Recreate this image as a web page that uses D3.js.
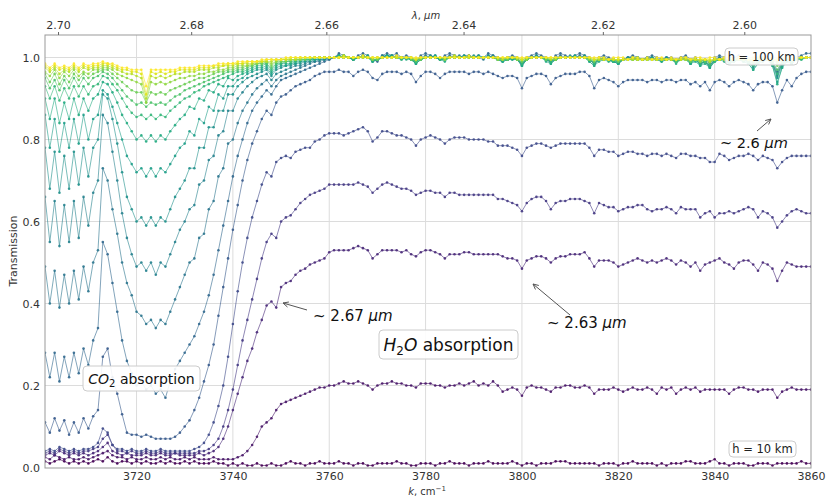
<!DOCTYPE html>
<html><head><meta charset="utf-8">
<script src="https://cdn.jsdelivr.net/npm/d3@7"></script>
<style>body{margin:0;background:#fff} svg{display:block} text{font-family:"DejaVu Sans",sans-serif}</style>
</head><body><svg id="c" width="826" height="497"></svg>
<script>
// wavenumber of first sample (cm^-1), samples every 1 cm^-1
const kStart = 3701;
const heights = [10,15,20,25,30,35,40,45,50,55,60,65,70,75,80,85,90,95,100];
const xTicks = [3720,3740,3760,3780,3800,3820,3840,3860];
const yTicks = [0,0.2,0.4,0.6,0.8,1.0];
const lambdaTicks = [2.70,2.68,2.66,2.64,2.62,2.60];
// transmission in percent, one array per altitude
const h10 = [1.5,1,1.5,2,1.5,1,1.5,1,1.5,1, 1.5,2,1.5,2.5,1.5,1,1.5,1.5,1,1.5, 1,1.5,1,1,1.5,1,1.5,1,1,1.5, 1,1.5,1,1,1,1.5,1,1,0.5,1, 0.5,1,0.5,0.5,1,0.5,0.5,1,0.5,0.5, 1,1.5,1,1,0.5,1,1,1.5,1,1, 1,1.5,1,1,0.5,1,1,0.5,0.5,1, 1,1,1,1.5,1,1,0.5,0.5,1,1, 1,0.5,1,1,1.5,1,1,1,0.5,1, 1,1,1.5,1,1,1,1,1.5,1,0.5, 1,1,0.5,1,1,1,1.5,1.5,1.5,1, 1,1,1,1,1,0.5,1,1,1,0.5, 1,1,1.5,1,1,1,1,0.5,1,0.5, 1,1,1,1.5,1.5,1,1,1,1.5,2, 1,1,0.5,1,1,1,0.5,0.5,1,1, 1,0.5,1,1,1,1,1,1.5,1,1];
const h15 = [2.5,2,3,2.5,2,2.5,2,2,2.5,2, 2.5,3,3.5,4,3,2.5,2.5,2,2.5,2, 2,2.5,2,2,2.5,2,2.5,2,2,2.5, 2,2.5,2,2,2,2.5,2,2,2,2, 2.5,3,4,5.5,7.5,10,11,12,14,15.5, 16,16.5,17,17.5,18,18.5,19,19.5,19.5,20, 20,20.5,21,20.5,20.5,21,20.5,20,19,20, 20.5,20.5,21,20.5,20.5,20,20,19.5,20.5,20.5, 20.5,20,20,19.5,20,20,20.5,20,20.5,21, 20,20.5,20,21,20,18.5,19,19.5,19,17.5, 19.5,20,19.5,19.5,19,18.5,19.5,19.5,20,20, 19.5,19.5,20,19.5,18,19,19,19,19.5,19, 18.5,19,19.5,19,19,19.5,19,18,19.5,19, 19.5,18,19,19.5,19,19.5,18.5,19,19,19, 19,19,18,19,19.5,19.5,19,19,18.5,19, 19,19,17,18.5,19,19.5,19,19,19,19];
const h20 = [3,3.5,3,4,3.5,3,3.5,3,3.5,3, 3.5,4,5,6,4,3.5,3,3.5,3,3, 3,3.5,3,3,3.5,3,3,3.5,3,3, 3,3,3.5,3,3.5,4,5,7,10,14, 18,22,26,29,33,36,39.5,40.5,39,44, 45,45.5,47,48,48.5,49.5,50,50.5,51,52.5, 53,53,53,53,53.5,54,53.5,53,51,52, 53,53,53,53,52.5,53,52,51.5,52.5,53, 53,52.5,52,51,52,52,52,52.5,52.5,52, 52,52,52,52,52,51.5,51,51,50.5,48.5, 50.5,51,51.5,51.5,51,50,51,51.5,51.5,52, 52,52,52.5,51,49,50.5,50.5,50.5,50,49, 49.5,50,50.5,51,50.5,50,50.5,50,50.5,51, 50.5,49.5,50.5,50,49,50,48,49.5,50,50.5, 51,50,49.5,48.5,50,50.5,50.5,49.5,48,50, 49.5,48.5,45.5,48,50,49.5,49,49,49,49];
const h25 = [3.5,4,3.5,4.5,4,3.5,4,3.5,4,4, 4.5,5,7,8,5.5,4,4,3.5,4,3.5, 3.5,4,3.5,3.5,4,3.5,3.5,3.5,3.5,3.5, 3.5,3.5,4,4,4.5,5.5,7,10,14,19, 25,31,36,41,46,51,55,57,56,60, 61,61.5,63,64.5,65.5,66.5,67,67.5,68,69, 69,69,69,69,69,69.5,69,68.5,67,68, 69,69.5,69,68.5,68,68,67.5,66.5,67,67.5, 67.5,67,67,66,67,67,66.5,66.5,66.5,66.5, 66.5,66.5,66.5,66.5,65.5,65.5,65,64.5,64,62.5, 64.5,65.5,66,66,65,63,64.5,65,65,65.5, 65.5,65.5,65,64.5,62,64.5,64,63.5,63.5,62.5, 63,63.5,63.5,64,64,63,62.5,63,63,63.5, 63,62,63.5,63,63,63,61,62,62.5,61, 62,62,62.5,62,62.5,63,63.5,63,61,62.5, 62,61,58.5,60,61.5,62.5,63,62.5,62,62];
const h30 = [4,4.5,4,5,4.5,4,4.5,4,4.5,4.5, 5,6,9.5,8.5,5.5,4.5,4.5,4,4.5,4, 4,4.5,4,4,4.5,4,4,4,4,4, 4,4.5,5,6,8,11,15,20,27,35, 43,50,56,61,65,69,72,71,74.5,75.5, 76,75.5,77,77.5,78,78,79.5,80,81,81.5, 81.5,81.5,81,81.5,82,82.5,83,82,79.5,80.5, 82,82,81.5,81,81,80.5,80,78.5,80,80.5, 81,80.5,80,79,80,80.5,80.5,80.5,80,80, 80,80,79.5,79.5,78.5,78.5,78.5,78,77.5,76, 78,78.5,79,79,78.5,78,78.5,79,79,79, 79,79,79,78,76,77.5,77.5,77,77,76, 76.5,77,77,76.5,76.5,76,76.5,76.5,76,76.5, 76,75.5,76.5,76.5,76,76,75.5,75.5,74.5,74.5, 76.5,76,75,75.5,76,76,76.5,76,75,76, 75.5,75,73,74.5,75.5,76,76,76,76,76];
const h35 = [11,8.5,12,9,11.5,8,11,8.5,12,9.5, 12.5,14,27,29,22,18,13,8.5,8,8, 7.5,8,7.5,7,7,7,7,7.5,8.5,10, 11.5,14,17,21,25,30,37,44,51,58, 64,70,75,79,82,85,87,86,89,90.5, 91,92,93,93.5,94,94.5,95.5,96,96.5,96.5, 96.5,97,96.5,96.5,95.5,96.5,97,96.5,95,94.5, 96,96.5,96.5,96.5,96,96.5,96,94,95.5,96.5, 96.5,96,95,96,96.5,96.5,96.5,96.5,96,96.5, 96.5,96,96.5,96,95.5,95,95.5,95.5,95,92.5, 95,95.5,96,96,95.5,93.5,95,95.5,96,96, 96,96.5,96.5,95.5,92.5,94.5,95,94.5,94,93, 94,94.5,94.5,94.5,94.5,94,94.5,94.5,94,94.5, 94.5,94,94.5,94.5,93.5,94,93,94,92,94, 94.5,94,93,94,94.5,94,93.5,92,93.5,94, 94,93,89,92,94.5,93,95,96,96.5,96.5];
const h40 = [28,22,28,21,27,22,28,23,29,25, 31,34,55,52,45,38,31,26,23,20, 21,19,20,18,19,17,21,24,26,28, 30,32,35,38,42,47,53,59,65,71, 76,80,84,87,89,90.5,92,91,93,94.5, 95,95.5,96,96.5,97,97.5,98,98.5,99,99.5, 100,101,100.5,100,99.5,100.5,101,100.5,99.5,99, 100.5,101,100.5,101,100,100.5,100,99,100.5,101, 100.5,100,99.5,100.5,101,100.5,100,100.5,100.5,100, 100.5,100,101,100.5,100,99.5,100,100.5,100,98.5, 100,100.5,101,100.5,100,99,100.5,101,100.5,100, 100.5,101,100.5,100,98.5,100,100.5,100,99.5,99, 99.5,100,100.5,100,99.5,100,100.5,100,99.5,100, 100,99.5,100,100.5,99.5,100,99,99.5,98.5,100, 100.5,100,99,100,100.5,100,99.5,98.5,99.5,100, 100,99,96.5,99,100.5,99.5,100,100.5,101,101];
const h45 = [49,40,48,39,47,40,48,41,49,43, 50,53,73,70,63,57,50,45,42,38, 37,35,36,34,36,35,38,41,44,47, 50,51,56,57,63,65,71,73,79,80, 84,87,89,91,92.5,93.5,94.5,93,94.5,95.5, 96,96.5,97,97.5,98,98.5,99,99,99.5,99.5, 100,100.5,100,100,99.5,100,100.5,100,99.5,99.5, 100,100.5,100,100.5,100,100,99.5,99,100,100.5, 100,100,99.5,100,100.5,100,100,100,100.5,100, 100,99.5,100.5,100,100,99.5,99.5,100,99.5,98.5, 99.5,100,100.5,100,99.5,99,100,100.5,100,100, 100,100.5,100,99.5,98.5,99.5,100,99.5,99,99, 99.5,100,100,99.5,99.5,100,100,99.5,99.5,100, 99.5,99,100,100,99,99.5,98.5,99,98,99.5, 100,99.5,99,99.5,100,99.5,99,98,99,99.5, 99.5,98.5,96,98.5,100,99,99.5,100,100,100];
const h50 = [66,55,65,54,64,55,65,56,66,59, 67,70,86,84,77,70,62,56,52,49, 50,48,50,47,50,49,52,55,58,60, 63,64,69,70,75,76,81,82,87,87, 90,91.5,93,94,95,95.5,96,94.5,96,96.5, 97,97.5,98,98,98.5,99,99,99.5,99.5,100, 100,100,100.5,100,99.5,100,100,100,99.5,99.5, 100.5,100.5,100,100,100,100,99.5,99,100,100, 100,100.5,99.5,99.5,100,100,100.5,100,100,100, 100,100,100,100.5,99.5,99.5,99.5,100,99.5,98.5, 99.5,100,100,100,99.5,99,99.5,100,100,100, 100,100,100,99.5,98.5,99.5,99.5,99.5,99,98.5, 99.5,99.5,100,100,99.5,99.5,100,99.5,99.5,99.5, 99.5,99,99.5,100,99,99.5,98.5,99,98,99.5, 100,99.5,99,99.5,99.5,99.5,99,98,99,99.5, 99.5,98.5,95.5,98.5,99.5,99,99.5,100,100,100];
const h55 = [78,68,77,67,76,68,77,69,78,71, 78,80,91,90,85,79,72,66,63,60, 61,59,61,59,61,60,63,66,68,70, 73,73,78,78,83,83,87,87,91,91, 93,94,95,95.5,96,96.5,97,95.5,97,97.5, 98,98,98.5,98.5,99,99,99.5,99.5,99.5,100, 100,100.5,100,100,99.5,100,100.5,100,99,99.5, 100,100.5,100.5,100,100,100,99.5,98.5,99.5,100, 100.5,100,99.5,99.5,100,100.5,100,100,100,100.5, 100,100,100.5,100,99.5,99,99.5,99.5,99.5,98, 99.5,100,100.5,100,99.5,99,99.5,100,100,100.5, 100,100,100.5,99.5,98.5,99.5,100,99.5,99,98.5, 99.5,100,100,99.5,99.5,100,99.5,99.5,99.5,100, 99.5,99,99.5,100,98.5,99.5,98.5,99,97.5,99.5, 99.5,99.5,98.5,99.5,99.5,99.5,99,97.5,99,99.5, 99.5,98.5,95,98,99.5,98.5,99.5,100,100,100];
const h60 = [86,78,85,77,84,78,85,79,86,80, 85,86,92,91,88,84,80,76,74,72, 73,71,73,71,73,72,74,76,78,79, 82,81,85,84,88,87,91,90,93,93, 94.5,95,96,96.5,97,97,97.5,96,97.5,98, 98,98.5,98.5,99,99,99.5,99.5,99.5,100,100, 100,100,100.5,100,99.5,100,100,100.5,99,99.5, 100,100,100.5,100,99.5,100,99.5,98.5,99.5,100, 100,100.5,99.5,99.5,100,100,100,100.5,100,100, 100.5,100,100,100,99.5,99,99.5,100,99.5,98, 99.5,100,100,100,99.5,98.5,99.5,100,100,100, 100.5,100,100,99,98,99.5,99.5,99.5,99,98.5, 99.5,99.5,100,100,99.5,99.5,100,99.5,99,99.5, 99.5,99,99.5,99.5,98.5,99.5,98,99,97.5,99, 99.5,99.5,98.5,99,99.5,99,98.5,97,98.5,99.5, 99.5,98,94,97.5,99.5,98.5,99.5,100,100,100];
const h65 = [90,85,90,84,89,85,90,86,90,87, 90,91,94,93.5,91.5,89,86,84,82,80, 81,79.5,81,79.5,81,80,82,83.5,85,86, 88,87.5,90,89.5,92,91.5,93.5,93,95,94.5, 95.5,96,96.5,97,97.5,97.5,98,96.5,98,98.5, 98.5,98.5,99,99,99.5,99.5,99.5,100,100,100, 100,100.5,100,100,99.5,100,100.5,100,99,99.5, 100,100.5,100,100,100,99.5,99.5,98.5,99.5,100, 100,100,99.5,99,100,100,100,100,100.5,100, 100,100,100,100,99.5,99,99.5,99.5,99.5,98, 99.5,100,100,100,99,98.5,99.5,100,100,100, 100,100,100,99,98,99,99.5,99,99,98.5, 99.5,99.5,99.5,100,99.5,99.5,99.5,99.5,99,99.5, 99.5,98.5,99.5,99.5,98.5,99,98,98.5,97.5,99, 99.5,99,98.5,99,99.5,99,98.5,97,98.5,99, 99.5,98,93.5,97.5,99,98.5,99.5,99.5,100,100];
const h70 = [93,90,93,89.5,92.5,90,93,90.5,93,91, 93,93.5,95.5,95,93.5,92,90,88,86.5,85.5, 86,85,86,85,86,85.5,87,88,89,90, 90.5,91.5,92,93,93.5,94,94.5,95,95.5,96, 96.5,96.5,97,97.5,98,98,98.5,97,98.5,98.5, 99,99,99,99.5,99.5,99.5,100,100,100,100, 100,100,100,100,99.5,100,100,100,99.5,99.5, 100,100,100,100,99.5,100,99.5,99,99.5,100, 100,100,99.5,99.5,100,100,100,100,100,100, 100,100,100,100,99.5,99.5,99.5,100,99.5,98.5, 99.5,100,100,100,99.5,99,99.5,100,100,100, 100,100,100,99.5,98.5,99.5,99.5,99.5,99,99, 99.5,99.5,99.5,99.5,99.5,99.5,99.5,99.5,99.5,99.5, 99.5,99,99.5,99.5,99,99.5,98.5,99,98,99, 99.5,99.5,99,99,99.5,99,99,98,99,99.5, 99.5,98.5,96,98.5,99.5,99,99.5,99.5,100,100];
const h75 = [95,92.5,94.5,92,94.5,92.5,95,93,95,93.5, 95,95.5,96.5,96,95,93.5,92,90.5,89.5,88.5, 89,88,89,88.5,89,88.5,89.5,90.5,91,92, 92.5,93,93.5,94,94.5,95,95.5,96,96.5,96.5, 97,97,97.5,98,98.5,98.5,98.5,97.5,98.5,99, 99,99,99.5,99.5,99.5,99.5,100,100,100,100, 100,100,100.5,100,100,100,100,100,99.5,99.5, 100,100,100,100,100,100,99.5,99,99.5,100, 100,100,100,99.5,100,100,100,100,100,100, 100,100,100,100,99.5,99.5,99.5,100,99.5,99, 99.5,100,100,100,99.5,99.5,99.5,100,100,100, 100,100,100,99.5,99,99.5,99.5,99.5,99.5,99, 99.5,99.5,99.5,99.5,99.5,99.5,99.5,99.5,99.5,99.5, 99.5,99,99.5,99.5,99,99.5,99,99,98.5,99.5, 99.5,99.5,99,99.5,99.5,99.5,99,98.5,99,99.5, 99.5,99,97,99,99.5,99,99.5,100,100,100];
const h80 = [96,94,96,93.5,95.5,94,96,94.5,96,95, 96,96.5,97,97,96,95,94,93,92,91.5, 91.5,89,91.5,91,91.5,91,92,92.5,93,93.5, 94,94.5,95,95,95.5,96,96.5,96.5,97,97, 97.5,97.5,98,98,98.5,98.5,99,98,99,99, 99,99.5,99.5,99.5,99.5,100,100,100,100,100, 100,100,100,100,100,100,100,100,99.5,99.5, 100,100,100,100,100,100,99.5,99.5,99.5,100, 100,100,100,99.5,100,100,100,100,100,100, 100,100,100,100,99.5,99.5,99.5,100,99.5,99, 99.5,100,100,100,99.5,99.5,99.5,100,100,100, 100,100,100,99.5,99,99.5,99.5,99.5,99.5,99, 99.5,99.5,99.5,99.5,99.5,99.5,99.5,99.5,99.5,99.5, 99.5,99.5,99.5,99.5,99,99.5,99,99.5,99,99.5, 99.5,99.5,99.5,99.5,99.5,99.5,99.5,99,99.5,99.5, 99.5,99,98,99,99.5,99.5,99.5,100,100,100];
const h85 = [96.5,95.5,97,95,96.5,95.5,97,95.5,96.5,96, 97,97,97.5,97.5,97,96,95.5,95,94.5,94, 93.5,89,94,93.5,94,93.5,94,94.5,95,95, 95.5,95.5,96,96,96.5,96.5,97,97,97.5,97.5, 98,98,98,98.5,98.5,99,99,98.5,99,99.5, 99.5,99.5,99.5,99.5,100,100,100,100,100,100, 100,100,100,100,100,100,100,100,99.5,100, 100,100,100,100,100,100,100,99.5,100,100, 100,100,100,99.5,100,100,100,100,100,100, 100,100,100,100,99.5,99.5,100,100,99.5,99.5, 99.5,100,100,100,100,99.5,99.5,100,100,100, 100,100,100,99.5,99.5,99.5,99.5,99.5,99.5,99.5, 99.5,99.5,99.5,99.5,99.5,99.5,99.5,99.5,99.5,99.5, 99.5,99.5,99.5,99.5,99.5,99.5,99,99.5,99,99.5, 99.5,99.5,99.5,99.5,99.5,99.5,99.5,99,99.5,99.5, 99.5,99.5,98.5,99.5,99.5,99.5,99.5,100,100,100];
const h90 = [97.5,96.5,97.5,96,97,96.5,97.5,96.5,97.5,97, 97.5,97.5,98,98,97.5,97,96.5,96,96,95.5, 95,90,95.5,95,95.5,95,95.5,96,96,96.5, 96.5,96.5,97,97,97,97.5,97.5,98,98,98, 98.5,98.5,98.5,98.5,99,99,99,99,99.5,99.5, 99.5,99.5,99.5,100,100,100,100,100,100,100, 100,100,100,100,100,100,100,100,100,100, 100,100,100,100,100,100,100,99.5,100,100, 100,100,100,100,100,100,100,100,100,100, 100,100,100,100,100,99.5,100,100,100,99.5, 100,100,100,100,100,99.5,100,100,100,100, 100,100,100,100,99.5,99.5,99.5,99.5,99.5,99.5, 99.5,99.5,99.5,99.5,99.5,99.5,99.5,99.5,99.5,99.5, 99.5,99.5,99.5,99.5,99.5,99.5,99.5,99.5,99,99.5, 99.5,99.5,99.5,99.5,99.5,99.5,99.5,99.5,99.5,99.5, 99.5,99.5,99,99.5,99.5,99.5,99.5,100,100,100];
const h95 = [98,97,98,97,97.5,97,98,97,98,97.5, 98,98,98.5,98.5,98,97.5,97,97,96.5,96.5, 96,91,96.5,96,96.5,96,96.5,96.5,97,97, 97,97,97.5,97.5,97.5,98,98,98,98.5,98.5, 98.5,98.5,99,99,99,99,99.5,99.5,99.5,99.5, 99.5,100,100,100,100,100,100,100,100,100, 100,100,100.5,100,100,100,100,100,100,100, 100,100,100,100,100,100,100,99.5,100,100, 100,100,100,100,100,100.5,100,100,100,100, 100,100,100,100,100,100,100,100,100,99.5, 100,100,100,100,100,100,100,100,100,100, 100,100,100,100,99.5,100,99.5,99.5,99.5,99.5, 99.5,99.5,100,99.5,99.5,99.5,99.5,99.5,99.5,99.5, 99.5,99.5,99.5,100,99.5,99.5,99.5,99.5,99.5,99.5, 99.5,100,99.5,99.5,99.5,100,99.5,99.5,99.5,99.5, 99.5,99.5,99.5,99.5,100,99.5,100,100,100,100];
const h100 = [98.5,97.5,98.5,97.5,98,97.5,98.5,97.5,98.5,98, 98.5,98.5,99,98.5,98.5,98,97.5,97.5,97,97, 97,93,97,97,97,97,97,97,97.5,97.5, 97.5,97.5,98,98,98,98,98.5,98.5,98.5,98.5, 99,99,99,99,99,99.5,99.5,99.5,99.5,99.5, 100,100,100,100,100,100,100,100,100,100, 100,100,100,100,100,100,100.5,100,100,100, 100,100,100,100.5,100,100,100,100,100,100, 100,100,100,100,100,100,100,100,100.5,100, 100,100,100,100,100,100,100,100,100,100, 100,100,100,100,100,100,100,100,100,100, 100,100,100,100,100,100,100,99.5,100,100, 100,99.5,100,100,99.5,100,99.5,100,100,99.5, 100,99.5,100,100,99.5,100,100,99.5,100,100, 99.5,100,100,99.5,100,100,99.5,100,100,100, 100,99.5,99.5,100,100,99.5,100,100,100,100];
const series = [h10,h15,h20,h25,h30,h35,h40,h45,h50,h55,h60,h65,h70,h75,h80,h85,h90,h95,h100];

const svg = d3.select("#c");
const L = 45, R = 811, T = 35, B = 468;
const x = d3.scaleLinear().domain([3701, 3860]).range([L, R]);
const y = d3.scaleLinear().domain([-0.0012, 1.0549]).range([B, T]);
const color = i => d3.interpolateViridis(i / (heights.length - 1));

svg.append("defs").append("clipPath").attr("id","clip")
  .append("rect").attr("x",L).attr("y",T).attr("width",R-L).attr("height",B-T);

// grid
const g = svg.append("g");
g.selectAll("line.vx").data(xTicks.filter(d=>d<3860)).join("line")
  .attr("x1",d=>x(d)).attr("x2",d=>x(d)).attr("y1",T).attr("y2",B)
  .attr("stroke","#dcdcdc").attr("stroke-width",1);
g.selectAll("line.hy").data(yTicks.filter(d=>d>0)).join("line")
  .attr("x1",L).attr("x2",R).attr("y1",d=>y(d)).attr("y2",d=>y(d))
  .attr("stroke","#dcdcdc").attr("stroke-width",1);

// curves
const plot = svg.append("g").attr("clip-path","url(#clip)");
const line = d3.line().x((d,i)=>x(kStart+i)).y(d=>y(d/100));
series.forEach((s,si)=>{
  const c = color(si);
  plot.append("path").datum(s).attr("d",line).attr("fill","none")
    .attr("stroke",c).attr("stroke-opacity",0.6).attr("stroke-width",1);
  plot.append("g").selectAll("circle").data(s).join("circle")
    .attr("cx",(d,i)=>x(kStart+i)).attr("cy",d=>y(d/100)).attr("r",1.3)
    .attr("fill",c).attr("fill-opacity",0.9);
});

// frame
svg.append("rect").attr("x",L).attr("y",T).attr("width",R-L).attr("height",B-T)
  .attr("fill","none").attr("stroke","#999").attr("stroke-width",1);

// axes
const ax = svg.append("g").attr("transform",`translate(0,${B})`)
  .call(d3.axisBottom(x).tickValues(xTicks).tickSize(0).tickPadding(4).tickFormat(d3.format("d")));
const ay = svg.append("g").attr("transform",`translate(${L},0)`)
  .call(d3.axisLeft(y).tickValues(yTicks).tickSize(0).tickPadding(5).tickFormat(d3.format(".1f")));
const at = svg.append("g").attr("transform",`translate(0,${T})`)
  .call(d3.axisTop(x).tickValues(lambdaTicks.map(l=>1e4/l)).tickSize(3).tickPadding(3)
    .tickFormat(d=>(1e4/d).toFixed(2)));
[ax,ay,at].forEach(a=>{
  a.select(".domain").remove();
  a.selectAll("text").attr("fill","#333").attr("font-size",11).attr("font-family","DejaVu Sans");
  a.selectAll("line").attr("stroke","#666");
});

// axis titles
svg.append("text").attr("x",427).attr("y",495).attr("text-anchor","middle")
  .attr("font-size",10).attr("fill","#333")
  .html('<tspan font-style="italic">k</tspan>, cm<tspan dy="-4" font-size="7">−1</tspan>');
svg.append("text").attr("x",426).attr("y",19).attr("text-anchor","middle")
  .attr("font-size",10).attr("fill","#333")
  .html('<tspan font-style="italic">λ</tspan>, <tspan font-style="italic">μm</tspan>');
svg.append("text").attr("transform","translate(17,251) rotate(-90)").attr("text-anchor","middle")
  .attr("font-size",11).attr("fill","#333").text("Transmission");

// boxed labels
function box(x0,y0,w,h){
  svg.append("rect").attr("x",x0).attr("y",y0).attr("width",w).attr("height",h).attr("rx",4)
    .attr("fill","#fff").attr("fill-opacity",0.9).attr("stroke","#ccc").attr("stroke-width",1);
}
box(725,48,73,17);
svg.append("text").attr("x",761.5).attr("y",60.5).attr("text-anchor","middle").attr("font-size",11.5).attr("fill","#222").text("h = 100 km");
box(729,441,67,16);
svg.append("text").attr("x",762.5).attr("y",453).attr("text-anchor","middle").attr("font-size",11.5).attr("fill","#222").text("h = 10 km");
box(379,330,139,29);
svg.append("text").attr("x",448.5).attr("y",350.5).attr("text-anchor","middle").attr("font-size",17).attr("fill","#111")
  .html('<tspan font-style="italic">H</tspan><tspan font-size="12" dy="4">2</tspan><tspan dy="-4" font-style="italic">O</tspan> absorption');
box(83,366,117,25);
svg.append("text").attr("x",141.5).attr("y",383.5).attr("text-anchor","middle").attr("font-size",14).attr("fill","#111")
  .html('<tspan font-style="italic">CO</tspan><tspan font-size="10" dy="3">2</tspan><tspan dy="-3"> absorption</tspan>');

// arrow annotations
function arrow(x1,y1,x2,y2){
  const a = Math.atan2(y2-y1,x2-x1), s = 6, w = 0.45;
  svg.append("path").attr("d",`M${x1},${y1}L${x2},${y2}M${x2-s*Math.cos(a-w)},${y2-s*Math.sin(a-w)}L${x2},${y2}L${x2-s*Math.cos(a+w)},${y2-s*Math.sin(a+w)}`)
    .attr("fill","none").attr("stroke","#555").attr("stroke-width",1);
}
function ann(tx,ty,num,fs){
  svg.append("text").attr("x",tx).attr("y",ty).attr("font-size",fs).attr("fill","#111")
    .html(`~ ${num} <tspan font-style="italic">μm</tspan>`);
}
arrow(757,131,771,119); ann(720,148,"2.6",14.5);
arrow(307,310,283,303); ann(313,321,"2.67",15);
arrow(570,315,533,284); ann(547,328,"2.63",15);
</script></body></html>
